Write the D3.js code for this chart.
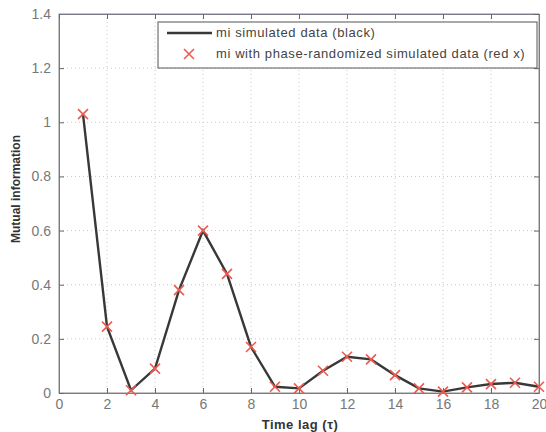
<!DOCTYPE html>
<html>
<head>
<meta charset="utf-8">
<script src="https://cdn.jsdelivr.net/npm/d3@7"></script>
<style>
  body { margin: 0; background: #fff; }
  svg { display: block; font-family: "Liberation Sans", Arial, sans-serif; }
</style>
</head>
<body>
<svg width="546" height="432"></svg>
<script>
const lags = [1, 2, 3, 4, 5, 6, 7, 8, 9, 10, 11, 12, 13, 14, 15, 16, 17, 18, 19, 20];
const miSimulated = [1.03, 0.245, 0.01, 0.09, 0.38, 0.6, 0.44, 0.17, 0.023, 0.017,
  0.082, 0.134, 0.124, 0.066, 0.017, 0.005, 0.021, 0.033, 0.038, 0.023];
const miPhaseRandom = [1.03, 0.245, 0.01, 0.09, 0.38, 0.6, 0.44, 0.17, 0.023, 0.017,
  0.082, 0.134, 0.124, 0.066, 0.017, 0.005, 0.021, 0.033, 0.038, 0.023];
const xTicks = [0, 2, 4, 6, 8, 10, 12, 14, 16, 18, 20];
const yTicks = [0, 0.2, 0.4, 0.6, 0.8, 1, 1.2, 1.4];
const legendLabels = ["mi simulated data (black)", "mi with phase-randomized simulated data (red x)"];

const svg = d3.select("svg");
const margin = { left: 59, top: 14, right: 7, bottom: 39 };
const width = parseInt(svg.attr("width")) - margin.left - margin.right;
const height = parseInt(svg.attr("height")) - margin.top - margin.bottom;

const x = d3.scaleLinear().domain([0, 20]).range([0, width]);
const y = d3.scaleLinear().domain([0, 1.4]).range([height, 0]);

const g = svg.append("g").attr("transform", `translate(${margin.left},${margin.top})`);

// grid
g.append("g")
  .selectAll("line")
  .data(xTicks.slice(1, -1))
  .join("line")
  .attr("x1", d => x(d)).attr("x2", d => x(d))
  .attr("y1", 0).attr("y2", height)
  .attr("stroke", "#c8c8c8").attr("stroke-width", 1)
  .attr("stroke-dasharray", "1,3");
g.append("g")
  .selectAll("line")
  .data(yTicks.slice(1, -1))
  .join("line")
  .attr("y1", d => y(d)).attr("y2", d => y(d))
  .attr("x1", 0).attr("x2", width)
  .attr("stroke", "#c8c8c8").attr("stroke-width", 1)
  .attr("stroke-dasharray", "1,3");

// box
g.append("rect")
  .attr("width", width).attr("height", height)
  .attr("fill", "none").attr("stroke", "#8a8a8a").attr("stroke-width", 1);

const fmt = d => d === 0 ? "0" : d3.format(".1~f")(d);

g.append("g")
  .attr("transform", `translate(0,${height})`)
  .call(d3.axisBottom(x).tickValues(xTicks).tickSize(-5).tickPadding(6).tickFormat(d => d));
g.append("g")
  .call(d3.axisLeft(y).tickValues(yTicks).tickSize(-5).tickPadding(8).tickFormat(fmt));
g.append("g")
  .call(d3.axisTop(x).tickValues(xTicks).tickSize(-5).tickFormat(""));
g.append("g")
  .attr("transform", `translate(${width},0)`)
  .call(d3.axisRight(y).tickValues(yTicks).tickSize(-5).tickFormat(""));

g.selectAll(".domain").attr("stroke", "#7a7a8a");
g.selectAll(".tick line").attr("stroke", "#666");
g.selectAll(".tick text").attr("fill", "#777").attr("font-size", 14);

// data line
const line = d3.line().x((d, i) => x(lags[i])).y(d => y(d));
g.append("path")
  .datum(miSimulated)
  .attr("d", line)
  .attr("fill", "none")
  .attr("stroke", "#383838")
  .attr("stroke-width", 2.4);

// red x markers
const mk = 5;
const xMark = s => `M${-s},${-s}L${s},${s}M${-s},${s}L${s},${-s}`;
g.append("g")
  .selectAll("path")
  .data(miPhaseRandom)
  .join("path")
  .attr("transform", (d, i) => `translate(${x(lags[i])},${y(d)})`)
  .attr("d", xMark(mk))
  .attr("stroke", "#ef5a50")
  .attr("stroke-width", 1.6)
  .attr("fill", "none");

// legend
const legend = svg.append("g").attr("transform", "translate(158,22)");
legend.append("rect")
  .attr("width", 379).attr("height", 46)
  .attr("fill", "#fff").attr("stroke", "#555").attr("stroke-width", 1);
legend.append("line")
  .attr("x1", 9).attr("x2", 54).attr("y1", 11).attr("y2", 11)
  .attr("stroke", "#383838").attr("stroke-width", 2.4);
legend.append("path")
  .attr("transform", "translate(31,32)")
  .attr("d", xMark(5))
  .attr("stroke", "#ef5a50").attr("stroke-width", 1.6);
legend.selectAll("text")
  .data(legendLabels)
  .join("text")
  .attr("x", 58)
  .attr("y", (d, i) => 15 + i * 21)
  .attr("font-size", 13)
  .attr("letter-spacing", 0.6)
  .attr("fill", "#444")
  .text(d => d);

// axis titles
svg.append("text")
  .attr("x", 300)
  .attr("y", 429)
  .attr("text-anchor", "middle")
  .attr("font-size", 13)
  .attr("letter-spacing", 0.5)
  .attr("font-weight", "bold")
  .attr("fill", "#333")
  .text("Time lag (τ)");
svg.append("text")
  .attr("transform", "translate(20,189) rotate(-90)")
  .attr("text-anchor", "middle")
  .attr("font-size", 12)
  .attr("font-weight", "bold")
  .attr("fill", "#333")
  .text("Mutual information");
</script>
</body>
</html>
